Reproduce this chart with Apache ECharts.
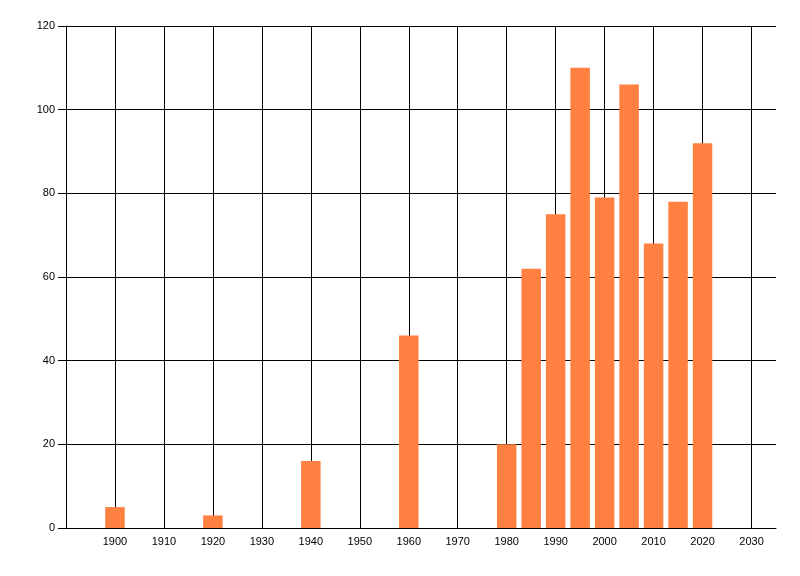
<!DOCTYPE html>
<html>
<head>
<meta charset="utf-8">
<script src="https://cdn.jsdelivr.net/npm/echarts@6/dist/echarts.min.js"></script>
<style>
html,body{margin:0;padding:0;background:#fff;}
#chart{width:800px;height:576px;}
</style>
</head>
<body>
<div id="chart"></div>
<script>
var years = [1900, 1920, 1940, 1960, 1980, 1985, 1990, 1995, 2000, 2005, 2010, 2015, 2020];
var values = [5, 3, 16, 46, 20, 62, 75, 110, 79, 106, 68, 78, 92];

var data = years.map(function (y, i) { return [y, values[i]]; });

var chart = echarts.init(document.getElementById('chart'));
chart.setOption({
  animation: false,
  backgroundColor: '#ffffff',
  grid: { left: 66, right: 24, top: 26, bottom: 48, containLabel: false },
  xAxis: {
    type: 'value',
    min: 1890,
    max: 2035,
    interval: 10,
    axisLine: { show: true, onZero: false, lineStyle: { color: '#000', width: 1 } },
    axisTick: { show: false },
    axisLabel: {
      color: '#000',
      fontFamily: 'Liberation Sans, Arial, sans-serif',
      fontSize: 11,
      margin: 8,
      showMinLabel: false,
      showMaxLabel: false,
      formatter: function (v) { return (v % 10 === 0 && v > 1890 && v < 2035) ? String(v) : ''; }
    },
    splitLine: { show: true, showMinLine: false, showMaxLine: false, lineStyle: { color: '#000', width: 1 } }
  },
  yAxis: {
    type: 'value',
    min: 0,
    max: 120,
    interval: 20,
    axisLine: { show: true, lineStyle: { color: '#000', width: 1 } },
    axisTick: { show: true, length: 8, lineStyle: { color: '#000', width: 1 } },
    axisLabel: {
      color: '#000',
      fontFamily: 'Liberation Sans, Arial, sans-serif',
      fontSize: 11,
      margin: 11
    },
    splitLine: { show: true, lineStyle: { color: '#000', width: 1 } }
  },
  series: [{
    type: 'bar',
    data: data,
    barWidth: 19.5,
    itemStyle: { color: '#FF8040' }
  }]
});
</script>
</body>
</html>
